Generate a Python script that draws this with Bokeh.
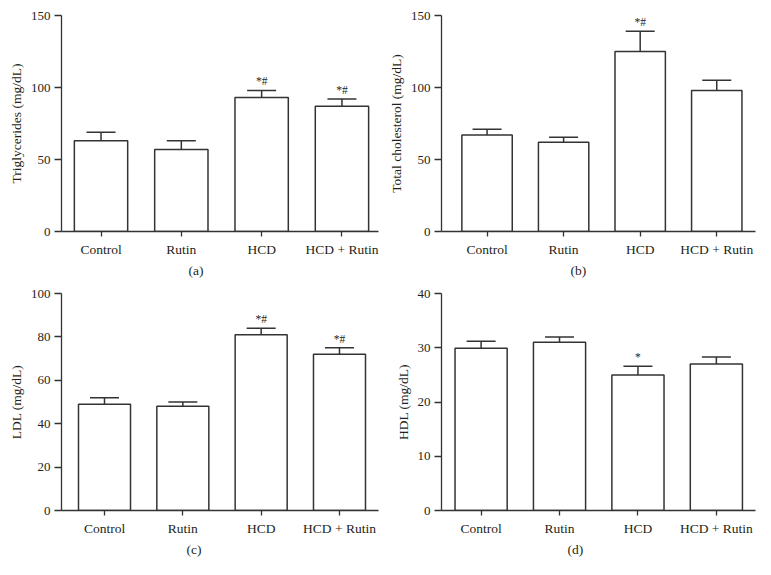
from bokeh.plotting import figure
from bokeh.layouts import gridplot
from bokeh.models import Range1d, FixedTicker, Whisker, TeeHead, ColumnDataSource, Title
from bokeh.core.properties import value
from bokeh.embed import file_html
from bokeh.resources import INLINE

categories = ["Control", "Rutin", "HCD", "HCD + Rutin"]

tg_mean = [63, 57, 93, 87]
tg_err = [6, 6, 5, 5]
tg_sig = ["", "", "*#", "*#"]

tc_mean = [67, 62, 125, 98]
tc_err = [4, 3.5, 14, 7]
tc_sig = ["", "", "*#", ""]

ldl_mean = [49, 48, 81, 72]
ldl_err = [3, 2, 3, 3]
ldl_sig = ["", "", "*#", "*#"]

hdl_mean = [29.9, 31, 25, 27]
hdl_err = [1.3, 1.0, 1.6, 1.3]
hdl_sig = ["", "", "*", ""]

FONT = "Liberation Serif"
TXT = "#231f20"
LINE = "#333333"


def panel(mean, err, sig, ylabel, ymax, ystep, caption, cap_offset, width, height,
          borders, xr, bar_w):
    x = list(range(len(categories)))
    top = [m + e for m, e in zip(mean, err)]
    src = ColumnDataSource(dict(x=x, mean=mean, top=top, sig=sig))
    p = figure(width=width, height=height, output_backend="svg",
               toolbar_location=None, x_range=Range1d(*xr),
               y_range=Range1d(0, ymax),
               min_border_left=borders[0], min_border_right=borders[1],
               min_border_top=borders[2], min_border_bottom=borders[3])
    p.outline_line_color = None
    p.grid.grid_line_color = None
    p.background_fill_color = "white"

    p.vbar(x="x", top="mean", bottom=0, width=bar_w, source=src,
           fill_color="white", line_color=LINE, line_width=1.5)
    w = Whisker(base="x", lower="mean", upper="top", source=src,
                line_color=LINE, line_width=1.5,
                upper_head=TeeHead(size=29, line_color=LINE, line_width=1.5),
                lower_head=None)
    p.add_layout(w)
    p.text(x="x", y="top", text="sig", source=src, text_align="center",
           text_baseline="bottom", y_offset=-3, text_font=value(FONT),
           text_font_size="11.5px", text_color=TXT)

    # axes
    p.xaxis.ticker = FixedTicker(ticks=x)
    p.xaxis.major_label_overrides = {i: c for i, c in enumerate(categories)}
    p.yaxis.ticker = FixedTicker(ticks=list(range(0, ymax + 1, ystep)))
    for ax in (p.xaxis[0], p.yaxis[0]):
        ax.axis_line_color = LINE
        ax.axis_line_width = 1.3
        ax.major_tick_line_color = LINE
        ax.major_tick_line_width = 1.3
        ax.minor_tick_line_color = None
        ax.major_tick_in = 0
        ax.major_label_text_font = FONT
        ax.major_label_text_color = TXT
        ax.axis_label_text_font = FONT
        ax.axis_label_text_color = TXT
        ax.axis_label_text_font_style = "normal"
    p.xaxis.major_tick_out = 5
    p.yaxis.major_tick_out = 7
    p.xaxis.major_label_text_font_size = "13.5px"
    p.yaxis.major_label_text_font_size = "13px"
    p.yaxis.major_label_standoff = 4
    p.xaxis.major_label_standoff = 5
    p.yaxis.axis_label = ylabel
    p.yaxis.axis_label_text_font_size = "13.5px"
    p.yaxis.axis_label_standoff = 4

    t = Title(text=caption, align="left", offset=cap_offset, text_font=FONT,
              text_font_size="13.5px", text_font_style="normal",
              text_color=TXT, standoff=2)
    p.add_layout(t, "below")
    return p


pa = panel(tg_mean, tg_err, tg_sig, "Triglycerides (mg/dL)", 150, 50, "(a)", 127,
           385, 287, (57, 7, 15, 56), (-0.492, 3.455), 0.664)
pb = panel(tc_mean, tc_err, tc_sig, "Total cholesterol (mg/dL)", 150, 50, "(b)", 129,
           380, 287, (54, 2, 15, 56), (-0.595, 3.506), 0.658)
pc = panel(ldl_mean, ldl_err, ldl_sig, "LDL (mg/dL)", 100, 20, "(c)", 125,
           385, 279, (61, 7, 6, 56), (-0.549, 3.498), 0.664)
pd = panel(hdl_mean, hdl_err, hdl_sig, "HDL (mg/dL)", 40, 10, "(d)", 126,
           380, 279, (53, 10, 6, 56), (-0.505, 3.499), 0.665)

grid = gridplot([[pa, pb], [pc, pd]], toolbar_location=None)

open("out.html", "w").write(file_html(grid, INLINE))
